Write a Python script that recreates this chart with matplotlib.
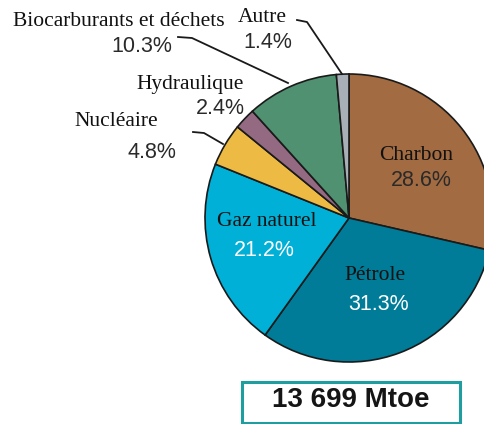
import matplotlib.pyplot as plt
from matplotlib.patches import Rectangle

# parts of total primary energy supply (%), clockwise from the top
sources = ["Charbon", "Pétrole", "Gaz naturel", "Nucléaire", "Hydraulique",
           "Biocarburants et déchets", "Autre"]
shares = [28.6, 31.3, 21.2, 4.8, 2.4, 10.3, 1.4]
colors = ["#A26B41", "#007B98", "#00B0D6", "#EDBB43", "#936A82", "#4F9170", "#A8AFB6"]
total_label = "13 699 Mtoe"

W, H = 484, 424
SERIF = ["Liberation Serif", "DejaVu Serif"]
SANS = ["Liberation Sans", "DejaVu Sans"]

fig = plt.figure(figsize=(W / 100, H / 100), dpi=100)
ax = fig.add_axes([0, 0, 1, 1])

ax.pie(shares, colors=colors, startangle=90, counterclock=False,
       center=(349, H - 218), radius=144,
       wedgeprops={"edgecolor": "#1a1a1a", "linewidth": 1.2})
ax.set_xlim(0, W)
ax.set_ylim(0, H)
ax.set_aspect("equal")
ax.axis("off")

pct = {name: f"{v:.1f}%" for name, v in zip(sources, shares)}

# label positions in pixels: x, y of name, x, y of percentage, percent colour
labels = {
    "Charbon": (416, 155, 421, 181, "#2a2a2a"),
    "Pétrole": (375, 276, 379, 305, "white"),
    "Gaz naturel": (267, 222, 264, 251, "white"),
    "Nucléaire": (116, 121, 152, 152, "#2a2a2a"),
    "Hydraulique": (190, 84, 220, 108, "#2a2a2a"),
    "Biocarburants et déchets": (119, 22, 142, 47, "#2a2a2a"),
    "Autre": (262, 17, 268, 42, "#2a2a2a"),
}

for name, (x, y, xp, yp, pc) in labels.items():
    ax.text(x, H - y, name, family=SERIF, fontsize=15.5, color="#111111",
            ha="center", va="center")
    ax.text(xp, H - yp, pct[name], family=SANS, fontsize=15.5, color=pc,
            ha="center", va="center")

# leader lines
leaders = [
    [(297, 20), (307, 22), (342, 74)],
    [(178, 37), (192, 38), (288, 83)],
    [(193, 132), (204, 133), (223, 144)],
]
for pts in leaders:
    xs = [p[0] for p in pts]
    ys = [H - p[1] for p in pts]
    ax.plot(xs, ys, color="#1a1a1a", lw=1.3)

ax.add_patch(Rectangle((242, H - 423), 218, 41, facecolor="white",
                       edgecolor="#1E9E9E", lw=2.2))
ax.text(351, H - 400, total_label, family=SANS, fontsize=20,
        fontweight="bold", color="#151515", ha="center", va="center")

fig.savefig("out.png", dpi=100)
